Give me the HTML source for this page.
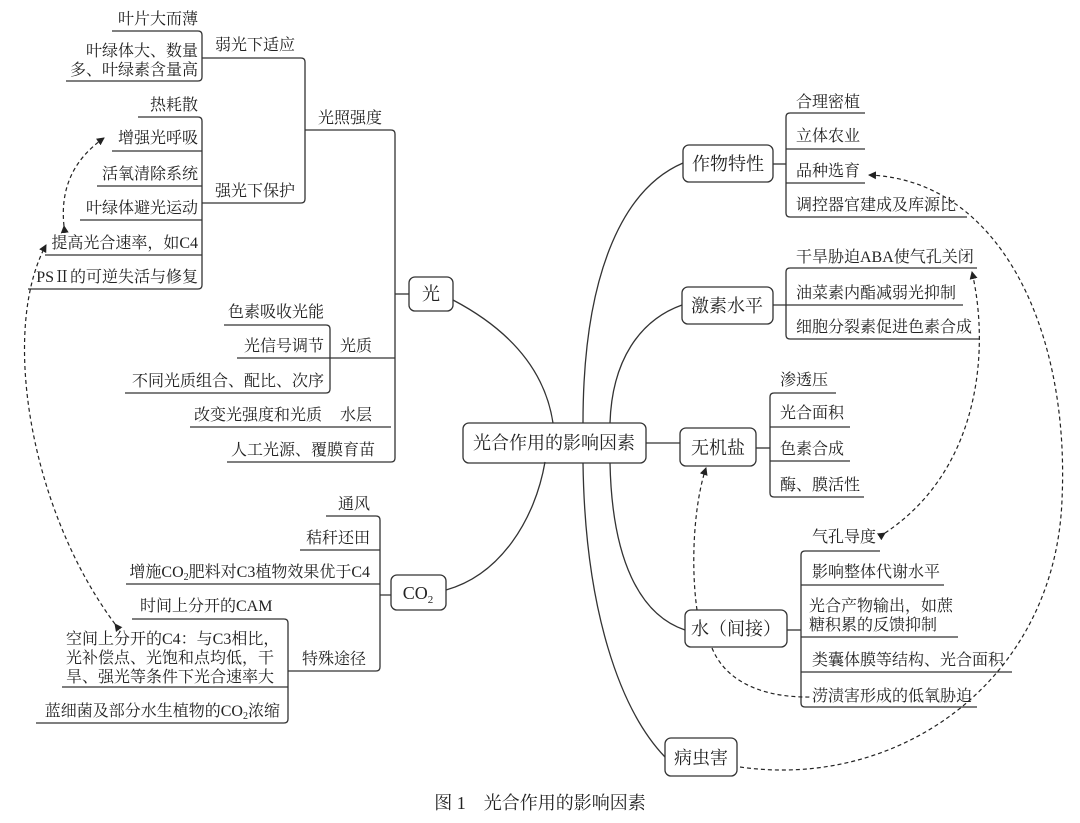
<!DOCTYPE html>
<html><head><meta charset="utf-8"><style>
body{margin:0;background:#fff}
svg{display:block}
text{font-family:"Liberation Serif","Noto Serif CJK SC",serif;font-size:16px;fill:#222}
.b{font-size:18px}
</style></head><body>
<svg width="1080" height="823" viewBox="0 0 1080 823" xmlns="http://www.w3.org/2000/svg">
<defs><marker id="a" markerWidth="8" markerHeight="8" refX="7" refY="4" orient="auto" markerUnits="userSpaceOnUse"><path d="M0,0 L8,4 L0,8 Z" fill="#222"/></marker></defs>
<g fill="none" stroke="#333" stroke-width="1.3">
<path d="M112,31 H198 Q202,31 202,35 V77 Q202,81 198,81 H66"/>
<path d="M202,58 H301 Q305,58 305,62 V199 Q305,203 301,203 H202"/>
<path d="M305,130 H391 Q395,130 395,134 V458 Q395,462 391,462 H227"/>
<path d="M138,117 H198 Q202,117 202,121 V285 Q202,289 198,289 H28"/>
<path d="M112,151 H202 M97,186 H202 M80,220 H202 M45,255 H202"/>
<path d="M395,294 H409"/>
<path d="M224,325 H326 Q330,325 330,329 V389 Q330,393 326,393 H125"/>
<path d="M237,358 H395 M190,427 H391"/>
<rect x="409" y="277" width="44" height="34" rx="6"/>
<path d="M453,300 C510,330 545,370 553,423"/>
<path d="M326,516 H376 Q380,516 380,520 V667 Q380,671 376,671 H288"/>
<path d="M300,550 H380 M126,584 H380 M380,595 H391"/>
<rect x="391" y="575" width="55" height="35" rx="6"/>
<path d="M446,590 C500,575 535,520 545,462"/>
<path d="M132,619 H284 Q288,619 288,623 V719 Q288,723 284,723 H36"/>
<path d="M62,687 H288"/>
<rect x="463" y="423" width="183" height="40" rx="6"/>
<path d="M646,443 H680"/>
<path d="M583,423 C583,280 620,190 683,163"/>
<path d="M610,423 C612,360 640,320 682,305"/>
<path d="M583,463 C585,610 620,710 665,757"/>
<path d="M610,463 C612,560 640,615 685,630"/>
<rect x="683" y="145" width="90" height="37" rx="6"/>
<path d="M773,164 H786"/>
<path d="M865,113 H790 Q786,113 786,117 V213 Q786,217 790,217 H967"/>
<path d="M786,149 H865 M786,183 H865"/>
<rect x="682" y="287" width="91" height="37" rx="6"/>
<path d="M977,268 H790 Q786,268 786,272 V335 Q786,339 790,339 H980"/>
<path d="M773,305 H963"/>
<rect x="680" y="428" width="76" height="38" rx="6"/>
<path d="M756,448 H770"/>
<path d="M836,393 H774 Q770,393 770,397 V493 Q770,497 774,497 H864"/>
<path d="M770,427 H850 M770,461 H850"/>
<rect x="685" y="610" width="102" height="37" rx="6"/>
<path d="M787,630 H801"/>
<path d="M880,551 H805 Q801,551 801,555 V703 Q801,707 805,707 H977"/>
<path d="M801,585 H944 M801,637 H958 M801,672 H1012"/>
<rect x="665" y="738" width="72" height="38" rx="6"/>
</g>
<g fill="none" stroke="#222" stroke-width="1.2" stroke-dasharray="4,3">
<path d="M64,226 Q58,170 104,138" marker-end="url(#a)" marker-start="url(#a)"/>
<path d="M115,624 C30,510 0,330 46,245" marker-end="url(#a)" marker-start="url(#a)"/>
<path d="M740,767 C900,790 1055,680 1062,500 C1070,330 1000,180 869,175" marker-end="url(#a)"/>
<path d="M885,533 C980,470 990,350 972,272" marker-end="url(#a)" marker-start="url(#a)"/>
<path d="M697,610 C690,560 695,500 706,468" marker-end="url(#a)"/>
<path d="M712,648 C725,680 760,698 812,697"/>
</g>
<g>
<text x="198" y="24" text-anchor="end">叶片大而薄</text>
<text x="198" y="56" text-anchor="end">叶绿体大、数量</text>
<text x="198" y="75" text-anchor="end">多、叶绿素含量高</text>
<text x="215" y="50">弱光下适应</text>
<text x="318" y="123">光照强度</text>
<text x="198" y="110" text-anchor="end">热耗散</text>
<text x="198" y="143" text-anchor="end">增强光呼吸</text>
<text x="198" y="179" text-anchor="end">活氧清除系统</text>
<text x="198" y="213" text-anchor="end">叶绿体避光运动</text>
<text x="198" y="248" text-anchor="end">提高光合速率，如C4</text>
<text x="198" y="282" text-anchor="end">PSⅡ的可逆失活与修复</text>
<text x="215" y="196">强光下保护</text>
<text class="b" x="431" y="300" text-anchor="middle">光</text>
<text x="324" y="317" text-anchor="end">色素吸收光能</text>
<text x="324" y="351" text-anchor="end">光信号调节</text>
<text x="340" y="351">光质</text>
<text x="324" y="386" text-anchor="end">不同光质组合、配比、次序</text>
<text x="322" y="420" text-anchor="end">改变光强度和光质</text>
<text x="340" y="420">水层</text>
<text x="375" y="455" text-anchor="end">人工光源、覆膜育苗</text>
<text x="370" y="509" text-anchor="end">通风</text>
<text x="370" y="543" text-anchor="end">秸秆还田</text>
<text x="370" y="577" text-anchor="end">增施CO<tspan font-size="10" dy="3">2</tspan><tspan dy="-3">肥料对C3植物效果优于C4</tspan></text>
<text class="b" x="418" y="599" text-anchor="middle">CO<tspan font-size="11" dy="4">2</tspan></text>
<text x="140" y="611">时间上分开的CAM</text>
<text x="66" y="644">空间上分开的C4：与C3相比，</text>
<text x="66" y="663">光补偿点、光饱和点均低，干</text>
<text x="66" y="682">旱、强光等条件下光合速率大</text>
<text x="302" y="664">特殊途径</text>
<text x="280" y="716" text-anchor="end">蓝细菌及部分水生植物的CO<tspan font-size="10" dy="3">2</tspan><tspan dy="-3">浓缩</tspan></text>
<text class="b" x="554" y="449" text-anchor="middle">光合作用的影响因素</text>
<text class="b" x="728" y="170" text-anchor="middle">作物特性</text>
<text class="b" x="727" y="312" text-anchor="middle">激素水平</text>
<text class="b" x="718" y="454" text-anchor="middle">无机盐</text>
<text class="b" x="736" y="635" text-anchor="middle">水（间接）</text>
<text class="b" x="701" y="764" text-anchor="middle">病虫害</text>
<text x="796" y="107">合理密植</text>
<text x="796" y="141">立体农业</text>
<text x="796" y="176">品种选育</text>
<text x="796" y="210">调控器官建成及库源比</text>
<text x="796" y="262">干旱胁迫ABA使气孔关闭</text>
<text x="796" y="298">油菜素内酯减弱光抑制</text>
<text x="796" y="332">细胞分裂素促进色素合成</text>
<text x="780" y="385">渗透压</text>
<text x="780" y="418">光合面积</text>
<text x="780" y="454">色素合成</text>
<text x="780" y="490">酶、膜活性</text>
<text x="812" y="542">气孔导度</text>
<text x="812" y="577">影响整体代谢水平</text>
<text x="809" y="611">光合产物输出，如蔗</text>
<text x="809" y="630">糖积累的反馈抑制</text>
<text x="812" y="665">类囊体膜等结构、光合面积</text>
<text x="812" y="701">涝渍害形成的低氧胁迫</text>
<text x="540" y="809" text-anchor="middle" style="font-size:18px">图 1　光合作用的影响因素</text>
</g>
</svg>
</body></html>
